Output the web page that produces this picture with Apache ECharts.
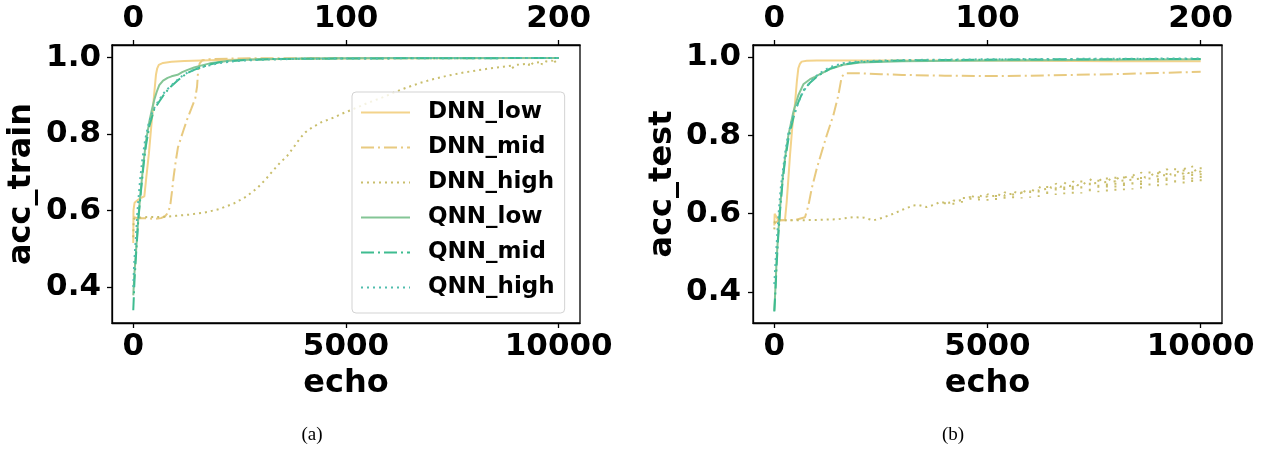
<!DOCTYPE html>
<html>
<head>
<meta charset="utf-8">
<script src="https://cdn.jsdelivr.net/npm/echarts@6/dist/echarts.min.js"></script>
<style>html,body{margin:0;padding:0;background:#fff}#c{width:1276px;height:455px}</style>
</head>
<body>
<div id="c"></div>
<script>
// ---------- data ----------
const seriesNames = ['DNN_low', 'DNN_mid', 'DNN_high', 'QNN_low', 'QNN_mid', 'QNN_high'];
const bottomTicks = [0, 5000, 10000];
const topTicks = [0, 100, 200];
const yTicks = [0.4, 0.6, 0.8, 1.0];

// (a) training accuracy
const trainDNNlow = [[0,0.515],[5,0.60],[30,0.62],[100,0.627],[200,0.634],[260,0.637],[300,0.68],[368,0.75],[415,0.81],[460,0.865],[500,0.915],[533,0.955],[563,0.972],[600,0.981],[700,0.986],[900,0.989],[1200,0.991],[2000,0.994],[3000,0.996],[5000,0.998],[10000,0.999]];
const trainDNNmid = [[0,0.583],[100,0.58],[300,0.58],[500,0.578],[650,0.58],[750,0.585],[820,0.595],[870,0.614],[910,0.65],[948,0.688],[1000,0.73],[1050,0.765],[1105,0.784],[1180,0.81],[1262,0.837],[1360,0.865],[1458,0.894],[1500,0.925],[1520,0.959],[1560,0.985],[1620,0.993],[1800,0.996],[2500,0.998],[5000,0.999],[10000,0.999]];
const trainDNNhigh = [[0,0.53],[10,0.578],[50,0.582],[200,0.582],[400,0.583],[600,0.583],[800,0.584],[1000,0.586],[1300,0.589],[1653,0.594],[2000,0.603],[2358,0.618],[2650,0.636],[2908,0.658],[3100,0.68],[3299,0.706],[3450,0.725],[3613,0.742],[3800,0.77],[3927,0.79],[4050,0.805],[4162,0.814],[4400,0.83],[4710,0.843],[4900,0.853],[5102,0.862],[5500,0.881],[5886,0.897],[6150,0.91],[6435,0.922],[6750,0.934],[7061,0.944],[7400,0.953],[7766,0.961],[8100,0.967],[8400,0.972],[8700,0.976],[8900,0.979],[8900,0.972],[9000,0.981],[9300,0.984],[9300,0.977],[9400,0.986],[9600,0.989],[9600,0.982],[9700,0.99],[9850,0.992],[9850,0.985],[10000,0.995]];
const trainQNNlow = [[0,0.378],[30,0.44],[63,0.49],[118,0.58],[180,0.657],[243,0.727],[298,0.78],[376,0.832],[440,0.865],[494,0.89],[550,0.91],[611,0.928],[700,0.94],[807,0.947],[900,0.951],[1042,0.955],[1150,0.962],[1277,0.968],[1430,0.974],[1590,0.979],[1800,0.985],[1983,0.988],[2250,0.992],[2530,0.994],[3000,0.996],[4000,0.998],[6000,0.999],[10000,0.999]];
const trainQNNmid = [[0,0.339],[30,0.42],[63,0.48],[118,0.575],[180,0.65],[243,0.72],[298,0.77],[376,0.82],[494,0.865],[611,0.885],[700,0.9],[807,0.915],[900,0.926],[1042,0.94],[1150,0.95],[1277,0.96],[1430,0.968],[1590,0.975],[1800,0.982],[2000,0.987],[2300,0.991],[2700,0.994],[3200,0.996],[4000,0.997],[6000,0.998],[10000,0.999]];
const trainQNNhigh = [[0,0.40],[20,0.46],[50,0.51],[100,0.6],[160,0.68],[220,0.74],[280,0.785],[350,0.822],[420,0.848],[494,0.868],[611,0.89],[700,0.905],[807,0.918],[900,0.928],[1042,0.942],[1150,0.952],[1277,0.961],[1430,0.968],[1590,0.974],[1800,0.98],[2000,0.985],[2300,0.99],[2700,0.993],[3200,0.995],[4000,0.997],[6000,0.998],[10000,0.999]];

// (b) test accuracy
const testDNNlow = [[0,0.57],[8,0.60],[40,0.596],[80,0.586],[133,0.583],[250,0.584],[290,0.63],[330,0.69],[368,0.75],[420,0.82],[485,0.882],[530,0.94],[563,0.972],[600,0.983],[642,0.989],[760,0.991],[1000,0.992],[2000,0.992],[4000,0.992],[6000,0.991],[8000,0.99],[10000,0.99]];
const testDNNmid = [[0,0.575],[100,0.583],[300,0.583],[500,0.584],[720,0.591],[800,0.621],[876,0.664],[994,0.715],[1111,0.758],[1228,0.80],[1385,0.852],[1502,0.903],[1580,0.95],[1659,0.959],[2000,0.959],[2500,0.957],[3000,0.955],[4000,0.953],[5000,0.952],[6000,0.953],[7000,0.955],[8000,0.957],[9000,0.96],[10000,0.963]];
const testDNNhigh = [[0,0.56],[10,0.58],[100,0.583],[500,0.583],[1000,0.584],[1500,0.586],[1855,0.591],[2100,0.59],[2324,0.583],[2550,0.59],[2793,0.6],[3000,0.61],[3263,0.621],[3400,0.622],[3577,0.617],[3750,0.623],[3890,0.63],
  [4000,0.628],[4000,0.622],[4000,0.631],[4100,0.628],
  [4200,0.630],[4200,0.623],[4200,0.634],[4300,0.632],
  [4400,0.636],[4400,0.628],[4400,0.640],[4500,0.640],
  [4600,0.643],[4600,0.634],[4600,0.647],[4700,0.642],
  [4800,0.642],[4800,0.632],[4800,0.647],[4900,0.643],
  [5000,0.644],[5000,0.633],[5000,0.650],[5100,0.645],
  [5200,0.646],[5200,0.634],[5200,0.652],[5300,0.647],
  [5400,0.648],[5400,0.636],[5400,0.655],[5500,0.650],
  [5600,0.651],[5600,0.638],[5600,0.658],[5700,0.652],
  [5800,0.653],[5800,0.639],[5800,0.661],[5900,0.655],
  [6000,0.656],[6000,0.641],[6000,0.664],[6100,0.658],
  [6200,0.660],[6200,0.643],[6200,0.669],[6300,0.662],
  [6400,0.664],[6400,0.646],[6400,0.673],[6500,0.666],
  [6600,0.667],[6600,0.648],[6600,0.677],[6700,0.669],
  [6800,0.670],[6800,0.650],[6800,0.680],[6900,0.671],
  [7000,0.672],[7000,0.651],[7000,0.683],[7100,0.673],
  [7200,0.674],[7200,0.652],[7200,0.686],[7300,0.675],
  [7400,0.676],[7400,0.653],[7400,0.689],[7500,0.678],
  [7600,0.679],[7600,0.655],[7600,0.692],[7700,0.680],
  [7800,0.681],[7800,0.657],[7800,0.695],[7900,0.682],
  [8000,0.683],[8000,0.658],[8000,0.698],[8100,0.684],
  [8200,0.685],[8200,0.660],[8200,0.700],[8300,0.686],
  [8400,0.687],[8400,0.662],[8400,0.703],[8500,0.689],
  [8600,0.690],[8600,0.664],[8600,0.706],[8700,0.692],
  [8800,0.693],[8800,0.667],[8800,0.709],[8900,0.695],
  [9000,0.696],[9000,0.670],[9000,0.712],[9100,0.698],
  [9200,0.699],[9200,0.673],[9200,0.715],[9300,0.700],
  [9400,0.701],[9400,0.675],[9400,0.717],[9500,0.702],
  [9600,0.703],[9600,0.677],[9600,0.720],[9700,0.704],
  [9800,0.705],[9800,0.679],[9800,0.722],[9900,0.706],
  [10000,0.708],[10000,0.682],[10000,0.724],[10000,0.708]];
const testQNNlow = [[0,0.352],[30,0.42],[55,0.485],[94,0.553],[133,0.613],[196,0.69],[250,0.741],[329,0.80],[446,0.86],[563,0.903],[681,0.931],[837,0.944],[950,0.95],[1072,0.957],[1307,0.97],[1620,0.981],[2011,0.987],[3000,0.99],[5000,0.992],[7000,0.993],[10000,0.995]];
const testQNNmid = [[0,0.35],[30,0.41],[55,0.47],[94,0.545],[133,0.605],[196,0.685],[250,0.735],[329,0.79],[446,0.845],[563,0.885],[681,0.915],[837,0.935],[950,0.946],[1072,0.956],[1307,0.971],[1620,0.982],[2011,0.988],[3000,0.992],[5000,0.994],[7000,0.995],[10000,0.996]];
const testQNNhigh = [[0,0.42],[30,0.48],[60,0.53],[100,0.6],[150,0.665],[200,0.71],[260,0.76],[329,0.805],[446,0.85],[563,0.885],[681,0.913],[837,0.936],[950,0.949],[1072,0.96],[1307,0.975],[1620,0.985],[2011,0.99],[3000,0.993],[5000,0.995],[7000,0.996],[10000,0.997]];

// ---------- styles ----------
const colors = ['#F3D38B', '#E8CA80', '#C9BE6C', '#84C595', '#3EBC90', '#50BDAD'];
const dashes = ['solid', [13, 4, 2, 4], [2, 4], 'solid', [13, 4, 2, 4], [2, 4]];
const FONT = 'DejaVu Sans';
const TICK_FS = 31;
const NAME_FS = 32;

const trainData = [trainDNNlow, trainDNNmid, trainDNNhigh, trainQNNlow, trainQNNmid, trainQNNhigh];
const testData = [testDNNlow, testDNNmid, testDNNhigh, testQNNlow, testQNNmid, testQNNhigh];

function xAxes(gridIndex) {
  const lbl = { fontFamily: FONT, fontWeight: 'bold', fontSize: TICK_FS, color: '#000' };
  return [
    {
      gridIndex, type: 'value', position: 'bottom', min: -500, max: 10500,
      splitLine: { show: false },
      axisLine: { show: true, onZero: false, lineStyle: { color: '#000', width: 1.3 } },
      axisTick: { show: true, length: 5, customValues: bottomTicks, lineStyle: { color: '#000', width: 1.3 } },
      axisLabel: Object.assign({ margin: 8, customValues: bottomTicks, formatter: v => String(v) }, lbl),
      name: 'echo', nameLocation: 'middle', nameGap: 45,
      nameTextStyle: { fontFamily: FONT, fontWeight: 'bold', fontSize: NAME_FS, color: '#000' }
    },
    {
      gridIndex, type: 'value', position: 'top', min: -10, max: 210,
      splitLine: { show: false },
      axisLine: { show: true, onZero: false, lineStyle: { color: '#000', width: 1.3 } },
      axisTick: { show: true, length: 5, customValues: topTicks, lineStyle: { color: '#000', width: 1.3 } },
      axisLabel: Object.assign({ margin: 11, customValues: topTicks, formatter: v => String(v) }, lbl)
    }
  ];
}
function yAxis(gridIndex, min, max, name, margin) {
  return {
    gridIndex, type: 'value', min, max,
    splitLine: { show: false },
    axisLine: { show: true, onZero: false, lineStyle: { color: '#000', width: 1.3 } },
    axisTick: { show: true, length: 5, customValues: yTicks, lineStyle: { color: '#000', width: 1.3 } },
    axisLabel: { margin, customValues: yTicks, formatter: v => v.toFixed(1), fontFamily: FONT, fontWeight: 'bold', fontSize: TICK_FS, color: '#000' },
    name, nameLocation: 'middle', nameGap: 74,
    nameTextStyle: { fontFamily: FONT, fontWeight: 'bold', fontSize: NAME_FS, color: '#000' }
  };
}

const series = [];
[trainData, testData].forEach((set, g) => {
  set.forEach((d, i) => {
    series.push({
      type: 'line', name: seriesNames[i], data: d,
      xAxisIndex: g * 2, yAxisIndex: g,
      showSymbol: false, symbol: 'none', smooth: false, animation: false,
      lineStyle: { color: colors[i], width: 2, type: dashes[i] },
      itemStyle: { color: colors[i] }
    });
  });
});

const chart = echarts.init(document.getElementById('c'), null, { renderer: 'canvas' });
chart.setOption({
  animation: false,
  backgroundColor: '#fff',
  grid: [
    { left: 112, right: 696, top: 45, bottom: 132, show: true, borderColor: '#000', borderWidth: 1.3, containLabel: false },
    { left: 753, right: 54, top: 45, bottom: 132, show: true, borderColor: '#000', borderWidth: 1.3, containLabel: false }
  ],
  xAxis: [...xAxes(0), ...xAxes(1)],
  yAxis: [yAxis(0, 0.3056, 1.033, 'acc_train', 11), yAxis(1, 0.3205, 1.0315, 'acc_test', 12)],
  legend: {
    data: seriesNames, orient: 'vertical', left: 352, top: 92,
    selectedMode: false,
    itemWidth: 49, itemHeight: 14, itemGap: 12,
    padding: [9, 10, 14, 8],
    borderColor: '#d3d3d3', borderWidth: 1, borderRadius: 4,
    backgroundColor: 'rgba(255,255,255,0.8)',
    itemStyle: { opacity: 0, borderWidth: 0 },
    textStyle: { fontFamily: FONT, fontWeight: 'bold', fontSize: 23, color: '#000', lineHeight: 23, padding: [0, 0, 0, 13] }
  },
  graphic: [
    { type: 'text', x: 312, y: 435, style: { text: '(a)', font: '19px "Liberation Serif"', fill: '#000', align: 'center', verticalAlign: 'middle' } },
    { type: 'text', x: 953, y: 435, style: { text: '(b)', font: '19px "Liberation Serif"', fill: '#000', align: 'center', verticalAlign: 'middle' } }
  ],
  series
});
</script>
</body>
</html>
